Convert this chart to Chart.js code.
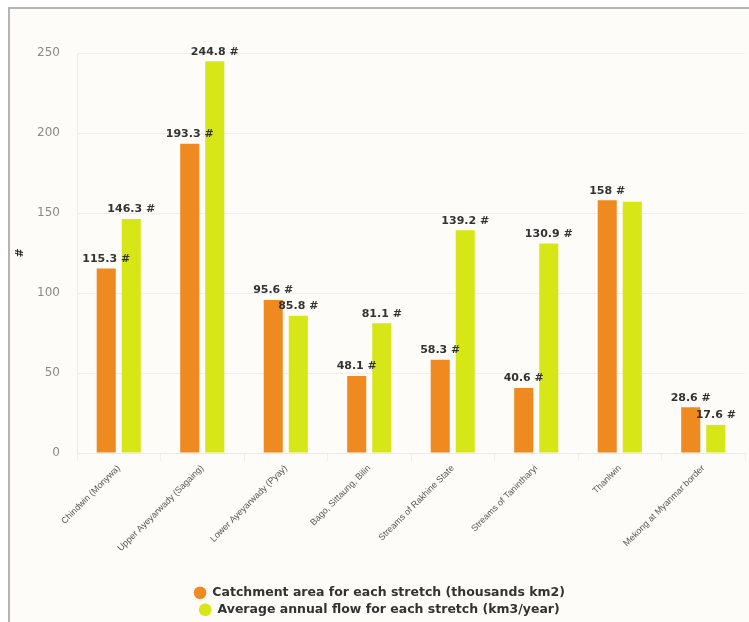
<!DOCTYPE html>
<html>
<head>
<meta charset="utf-8">
<script src="https://cdn.jsdelivr.net/npm/chart.js@4"></script>
<style>
  html, body { margin: 0; padding: 0; background: #ffffff; overflow: hidden; }
  #frame {
    position: absolute; left: 8px; top: 7px; width: 760px; height: 640px;
    border-top: 2px solid #b4b4b4; border-left: 2px solid #b4b4b4;
    background: #fdfcf8;
  }
  #wrap { position: absolute; left: 0; top: 0; width: 749px; height: 640px; }
</style>
</head>
<body>
<div id="frame"></div>
<div id="wrap"><canvas id="flow-chart"></canvas></div>
<script>
// river stretches and their values
const stretches = [
    'Chindwin (Monywa)',
    'Upper Ayeyarwady (Sagaing)',
    'Lower Ayeyarwady (Pyay)',
    'Bago, Sittaung, Bilin',
    'Streams of Rakhine State',
    'Streams of Tanintharyi',
    'Thanlwin',
    'Mekong at Myanmar border'
];
const catchmentArea = [115.3, 193.3, 95.6, 48.1, 58.3, 40.6, 158, 28.6];
const annualFlow = [146.3, 244.8, 85.8, 81.1, 139.2, 130.9, 157, 17.6];
const yTicks = [0, 50, 100, 150, 200, 250];

const wideFont = '"DejaVu Sans", Verdana, sans-serif';
const narrowFont = '"Liberation Sans", Arial, sans-serif';
Chart.defaults.font.family = wideFont;

// value labels above bars; a label that would collide with one already drawn is skipped
const barLabels = {
    id: 'barLabels',
    afterDatasetsDraw: function(chart) {
        const ctx = chart.ctx;
        const placed = [];
        ctx.save();
        ctx.font = 'bold 11px ' + wideFont;
        ctx.fillStyle = '#333333';
        ctx.textAlign = 'center';
        ctx.textBaseline = 'bottom';
        chart.data.datasets.forEach(function(ds, di) {
            chart.getDatasetMeta(di).data.forEach(function(bar, i) {
                const text = ds.data[i] + ' #';
                const w = ctx.measureText(text).width;
                const box = { l: bar.x - w / 2, r: bar.x + w / 2, t: bar.y - 16, b: bar.y - 4 };
                const hit = placed.some(function(p) {
                    return box.l < p.r && box.r > p.l && box.t < p.b && box.b > p.t;
                });
                if (hit) return;
                placed.push(box);
                ctx.fillText(text, bar.x, bar.y - 4);
            });
        });
        ctx.restore();
    }
};

const ctx = document.getElementById('flow-chart').getContext('2d');
window.flowChart = new Chart(ctx, {
    type: 'bar',
    data: {
        labels: stretches,
        datasets: [{
            label: 'Catchment area for each stretch (thousands km2)',
            data: catchmentArea,
            backgroundColor: '#ee8a1f',
            borderWidth: 0,
            categoryPercentage: 0.6,
            barPercentage: 0.76
        }, {
            label: 'Average annual flow for each stretch (km3/year)',
            data: annualFlow,
            backgroundColor: '#d6e617',
            borderWidth: 0,
            categoryPercentage: 0.6,
            barPercentage: 0.76
        }]
    },
    options: {
        responsive: true,
        maintainAspectRatio: false,
        animation: false,
        layout: {
            padding: { top: 53, right: 4, bottom: 14, left: 14 }
        },
        scales: {
            y: {
                min: 0,
                max: 250,
                afterBuildTicks: function(scale) {
                    scale.ticks = yTicks.map(function(v) { return { value: v }; });
                },
                afterFit: function(scale) { scale.width = 63; },
                grid: {
                    color: '#efefea',
                    drawTicks: false
                },
                border: { color: '#ecece6' },
                ticks: {
                    padding: 17,
                    color: '#8a8a8a',
                    font: { size: 12 }
                },
                title: {
                    display: true,
                    text: '#',
                    color: '#333333',
                    font: { size: 11, weight: 'bold' },
                    padding: { top: 0 }
                }
            },
            x: {
                afterFit: function(scale) { scale.height = 129; },
                grid: {
                    drawOnChartArea: false,
                    tickLength: 8,
                    color: 'rgba(0, 0, 0, 0.05)'
                },
                border: { color: '#ecece6' },
                ticks: {
                    minRotation: 45,
                    maxRotation: 45,
                    autoSkip: false,
                    padding: 2,
                    color: '#555555',
                    font: { size: 9, family: narrowFont }
                }
            }
        },
        plugins: {
            legend: {
                position: 'bottom',
                labels: {
                    usePointStyle: true,
                    pointStyle: 'circle',
                    boxWidth: 12,
                    boxHeight: 9,
                    padding: 4.5,
                    color: '#333333',
                    font: { size: 12.5, weight: 'bold' }
                }
            },
            tooltip: { enabled: false }
        }
    },
    plugins: [barLabels]
});
</script>
</body>
</html>
